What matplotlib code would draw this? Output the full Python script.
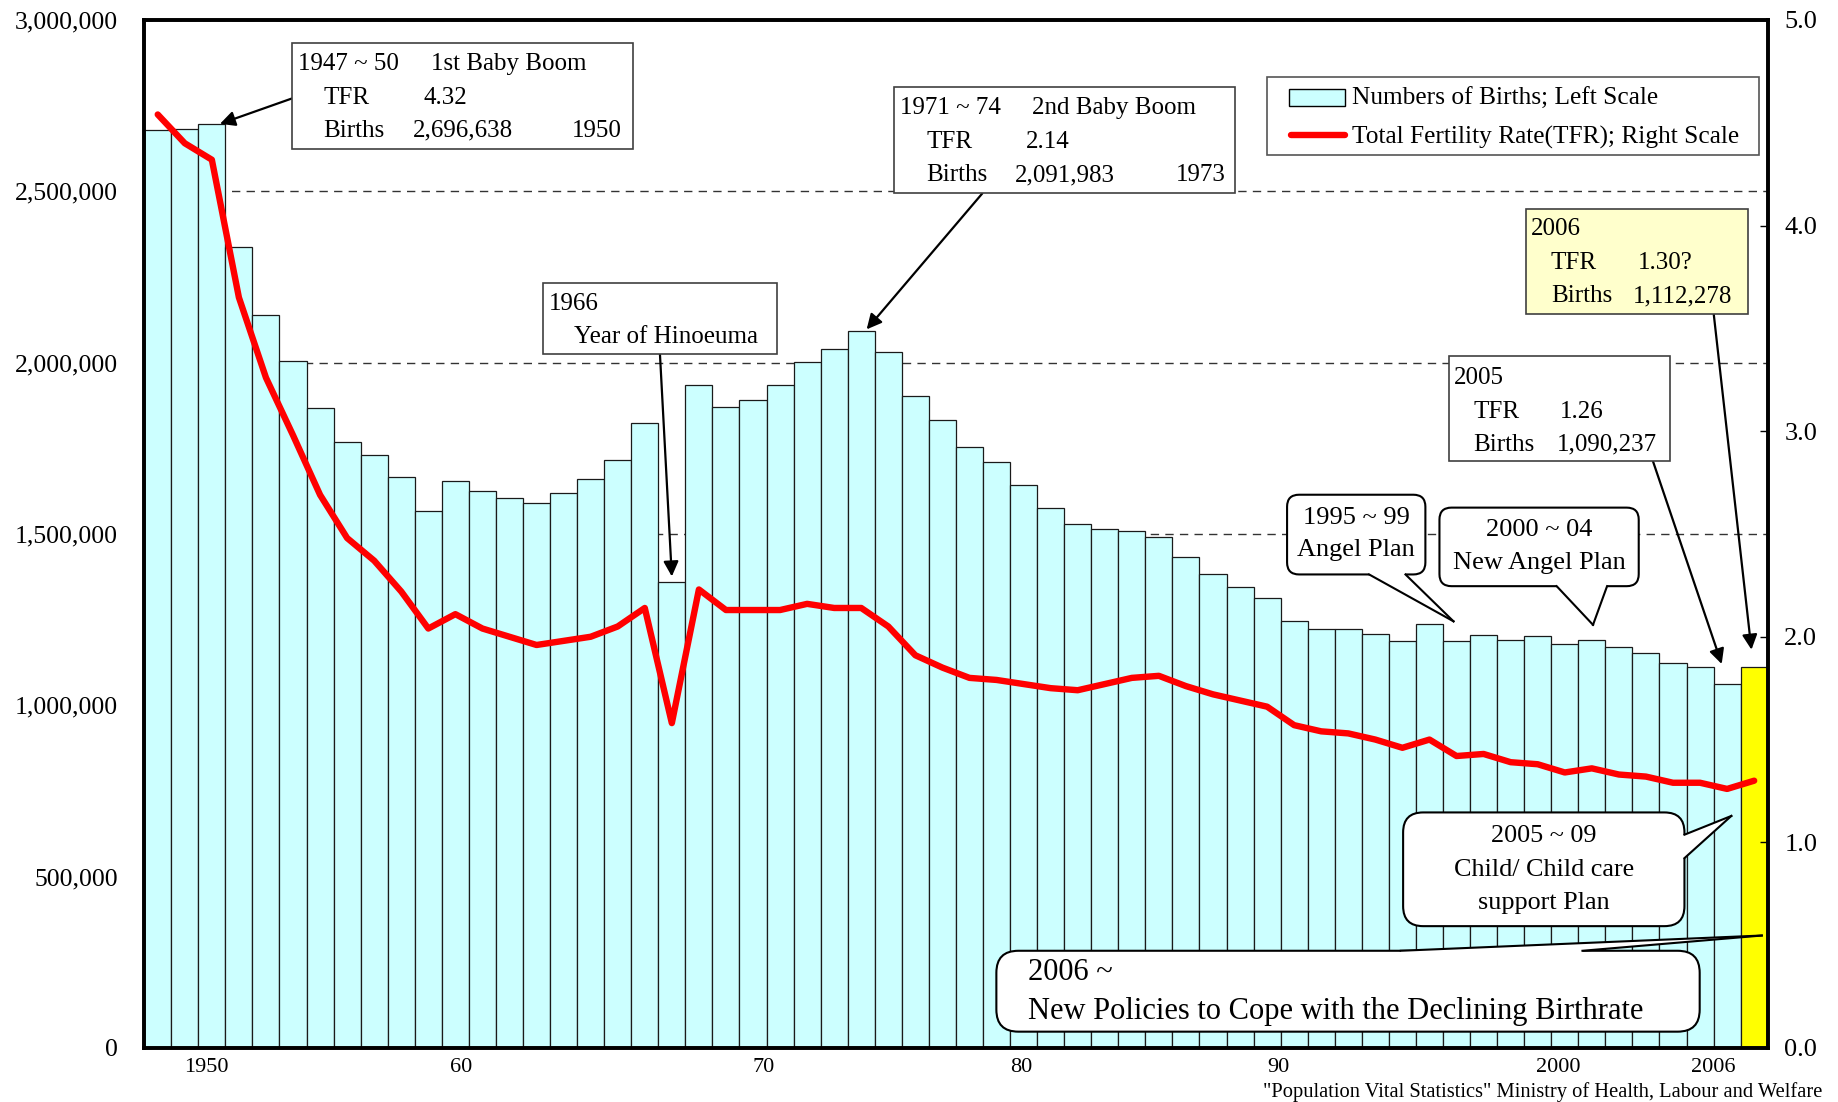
import matplotlib
matplotlib.use('Agg')
import matplotlib.pyplot as plt
from matplotlib.patches import Rectangle, FancyBboxPatch, Polygon
from matplotlib.lines import Line2D

plt.rcParams['font.family'] = ['Liberation Serif', 'DejaVu Serif']

# ---------------- data ----------------
years = list(range(1947, 2007))
births = [2678792, 2681624, 2696638, 2337507, 2137689, 2005162, 1868040, 1769580,
          1730692, 1665278, 1566713, 1653469, 1626088, 1606041, 1589372, 1618616,
          1659521, 1716761, 1823697, 1360974, 1935647, 1871839, 1889815, 1934239,
          2000973, 2038682, 2091983, 2029989, 1901440, 1832617, 1755100, 1708643,
          1642580, 1576889, 1529455, 1515392, 1508687, 1489780, 1431577, 1382946,
          1346658, 1314006, 1246802, 1221585, 1223245, 1208989, 1188282, 1238328,
          1187064, 1206555, 1191665, 1203147, 1177669, 1190547, 1170662, 1153855,
          1123610, 1110721, 1062530, 1112278]
tfr = [4.54, 4.40, 4.32, 3.65, 3.26, 2.98, 2.69, 2.48, 2.37, 2.22, 2.04, 2.11,
       2.04, 2.00, 1.96, 1.98, 2.00, 2.05, 2.14, 1.58, 2.23, 2.13, 2.13, 2.13,
       2.16, 2.14, 2.14, 2.05, 1.91, 1.85, 1.80, 1.79, 1.77, 1.75, 1.74, 1.77,
       1.80, 1.81, 1.76, 1.72, 1.69, 1.66, 1.57, 1.54, 1.53, 1.50, 1.46, 1.50,
       1.42, 1.43, 1.39, 1.38, 1.34, 1.36, 1.33, 1.32, 1.29, 1.29, 1.26, 1.30]
xtick_labels = ['1950', '60', '70', '80', '90', '2000', '2006']
left_ticks = [0, 500000, 1000000, 1500000, 2000000, 2500000, 3000000]
left_tick_labels = ['0', '500,000', '1,000,000', '1,500,000', '2,000,000', '2,500,000', '3,000,000']
right_ticks = [0.0, 1.0, 2.0, 3.0, 4.0, 5.0]
right_tick_labels = ['0.0', '1.0', '2.0', '3.0', '4.0', '5.0']

# ---------------- layout ----------------
xtick_pos = [1948.8, 1958.2, 1969.4, 1978.9, 1988.4, 1998.75, 2004.5]
W, H = 1838, 1102
SW, SH = 1568, 940

def I(xs, ys):
    """reference (shrunk) pixel -> figure inches"""
    return (xs * W / SW / 100.0, (H - ys * H / SH) / 100.0)

fig = plt.figure(figsize=(W / 100, H / 100), dpi=100)
ax = fig.add_axes([144.2 / W, 1 - 1048 / H, (1767.7 - 144.2) / W, (1048 - 19.9) / H])

bar_colors = ['#CCFFFF'] * (len(years) - 1) + ['#FFFF00']
ax.bar(years, births, width=1.0, color=bar_colors, edgecolor='#1a1a1a',
       linewidth=0.9, zorder=2)
ax.set_xlim(years[0] - 0.5, years[-1] + 0.5)
ax.set_ylim(0, 3000000)
ax.set_axisbelow(True)
ax.yaxis.grid(True, linestyle=(0, (6, 4.5)), color='#333333', lw=1.0)
ax.set_yticks(left_ticks)
ax.set_yticklabels(left_tick_labels)
ax.set_xticks(xtick_pos)
ax.set_xticklabels(xtick_labels)
ax.tick_params(axis='y', direction='in', length=6, width=1, labelsize=18.5, pad=19)
ax.tick_params(axis='x', length=0, labelsize=16, pad=7)

ax2 = ax.twinx()
ax2.plot(years, tfr, color='#FF0000', lw=4.6, solid_joinstyle='round',
         solid_capstyle='round', zorder=3)
ax2.set_ylim(0, 5)
ax2.set_yticks(right_ticks)
ax2.set_yticklabels(right_tick_labels)
ax2.tick_params(axis='y', direction='in', length=6, width=1, labelsize=19, pad=12)

for a in (ax, ax2):
    for s in a.spines.values():
        s.set_linewidth(2.6)
        s.set_color('black')

T = fig.dpi_scale_trans
BOX_FS = 18


def box(x0, y0, x1, y1, fc='white', ec='#404040', lw=1.2):
    p0 = I(x0, y1)
    p1 = I(x1, y0)
    fig.add_artist(Rectangle(p0, p1[0] - p0[0], p1[1] - p0[1], transform=T,
                             fc=fc, ec=ec, lw=lw, zorder=5))


def txt(xs, ys, s, size=BOX_FS, ha='left'):
    x, y = I(xs, ys + 1.5)
    fig.text(x, y, s, transform=T, fontsize=size, ha=ha, va='center', zorder=6)


def arrow(xs, ys, target):
    ax.annotate('', xy=target, xycoords='data', xytext=I(xs, ys), textcoords=T,
                arrowprops=dict(arrowstyle='-|>,head_length=0.9,head_width=0.45',
                                color='black', lw=1.6, shrinkA=0, shrinkB=0),
                zorder=4, annotation_clip=False)


def callout(x0, y0, x1, y1, tail, inward, rad=0.12):
    p0 = I(x0, y1)
    p1 = I(x1, y0)
    fig.add_artist(FancyBboxPatch(p0, p1[0] - p0[0], p1[1] - p0[1],
                                  boxstyle='round,pad=0,rounding_size=%g' % rad,
                                  transform=T, fc='white', ec='black', lw=1.5, zorder=5))
    a, tip, b = tail
    dx, dy = inward
    fill = [I(a[0] + dx, a[1] + dy), I(*a), I(*tip), I(*b), I(b[0] + dx, b[1] + dy)]
    fig.add_artist(Polygon(fill, closed=True, fc='white', ec='none', transform=T, zorder=5.5))
    for p in (a, b):
        q0, q1 = I(*p), I(*tip)
        fig.add_artist(Line2D([q0[0], q1[0]], [q0[1], q1[1]], transform=T,
                              color='black', lw=1.5, zorder=5.6))


# 1st baby boom
box(249, 37, 540, 127)
txt(254, 53, '1947 ~ 50')
txt(368, 53, '1st Baby Boom')
txt(276, 82, 'TFR')
txt(361, 82, '4.32')
txt(276, 110, 'Births')
txt(352, 110, '2,696,638')
txt(488, 110, '1950')
arrow(249, 84, (1949.3, births[2]))

# 2nd baby boom
box(763, 74, 1054, 165)
txt(768, 91, '1971 ~ 74')
txt(880, 91, '2nd Baby Boom')
txt(790, 120, 'TFR')
txt(875, 120, '2.14')
txt(790, 148, 'Births')
txt(866, 148, '2,091,983')
txt(1003, 148, '1973')
arrow(838, 165, (1973.2, births[26] + 5000))

# Hinoeuma
box(463, 241, 663, 302)
txt(468, 258, '1966')
txt(490, 286, 'Year of Hinoeuma')
arrow(563, 302, (1966.0, births[19] + 15000))

# 2006 box
box(1302, 178, 1491, 268, fc='#FFFFCC')
txt(1306, 194, '2006')
txt(1323, 223, 'TFR')
txt(1397, 223, '1.30?')
txt(1323, 251, 'Births')
txt(1393, 251, '1,112,278')
arrow(1462, 268, (2005.9, births[59] + 50000))

# 2005 box
box(1236, 304, 1425, 393)
txt(1240, 321, '2005')
txt(1257, 350, 'TFR')
txt(1331, 350, '1.26')
txt(1257, 378, 'Births')
txt(1328, 378, '1,090,237')
arrow(1410, 393, (2004.8, births[58] + 58000))

# legend
box(1081, 66, 1501, 132, ec='#555555')
lp0 = I(1100, 90)
lp1 = I(1147, 76)
fig.add_artist(Rectangle(lp0, lp1[0] - lp0[0], lp1[1] - lp0[1], transform=T,
                         fc='#CCFFFF', ec='black', lw=1.0, zorder=6))
l0 = I(1101, 115)
l1 = I(1147, 115)
fig.add_artist(Line2D([l0[0], l1[0]], [l0[1], l1[1]], transform=T, color='#FF0000',
                      lw=4.6, solid_capstyle='round', zorder=6))
txt(1153, 83, 'Numbers of Births; Left Scale', size=18.3)
txt(1153, 116, 'Total Fertility Rate(TFR); Right Scale', size=18.3)

# speech-bubble callouts
callout(1098, 422, 1216, 490, [(1168, 490), (1240, 530), (1199, 490)], (0, -4))
txt(1157, 440, '1995 ~ 99', size=19, ha='center')
txt(1157, 468, 'Angel Plan', size=19, ha='center')

callout(1228, 433, 1398, 500, [(1328, 500), (1359, 533), (1371, 500)], (0, -4))
txt(1313, 451, '2000 ~ 04', size=19, ha='center')
txt(1313, 479, 'New Angel Plan', size=19, ha='center')

callout(1197, 693, 1437, 790, [(1437, 712), (1477, 696), (1437, 732)], (-4, 0), rad=0.2)
txt(1317, 712, '2005 ~ 09', size=18.8, ha='center')
txt(1317, 741, 'Child/ Child care', size=18.8, ha='center')
txt(1317, 769, 'support Plan', size=18.8, ha='center')

callout(850, 811, 1450, 880, [(1195, 811), (1503, 798), (1350, 811)], (0, 4), rad=0.22)
txt(877, 828, '2006 ~', size=22)
txt(877, 861, 'New Policies to Cope with the Declining Birthrate', size=22)

# source
txt(1555, 930, '"Population Vital Statistics" Ministry of Health, Labour and Welfare',
    size=14.8, ha='right')

fig.savefig('out.png', dpi=100)
